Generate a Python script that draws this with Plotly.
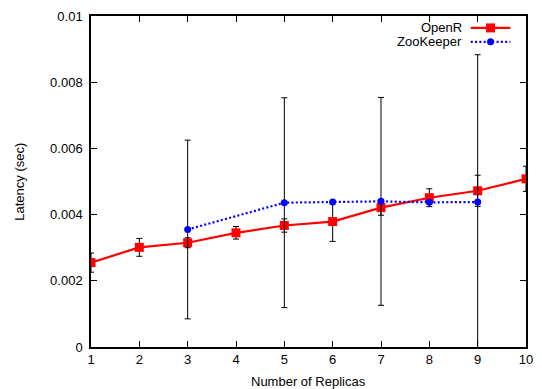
import plotly.graph_objects as go

# Replica counts and measured latencies (seconds)
replicas = [1, 2, 3, 4, 5, 6, 7, 8, 9, 10]
openr_latency = [0.00255, 0.00301, 0.00315, 0.00345, 0.00367, 0.00379, 0.00421, 0.00451, 0.00472, 0.00508]
openr_err = [0.00029, 0.00027, 0.00015, 0.00019, 0.00020, 0.00060, 0.00023, 0.00027, 0.00047, 0.00038]

zk_replicas = [3, 5, 6, 7, 8, 9]
zk_latency = [0.00355, 0.00436, 0.00438, 0.00440, 0.00437, 0.00438]
zk_err = [0.00270, 0.00317, 0.00002, 0.00314, 0.00002, 0.00445]

y_ticks = [0, 0.002, 0.004, 0.006, 0.008, 0.01]
y_tick_labels = ["0", "0.002", "0.004", "0.006", "0.008", "0.01"]

FONT = "Liberation Sans, Arial, Helvetica, sans-serif"
RED = "#ff0000"
BLUE = "#0000ff"

fig = go.Figure()

fig.add_trace(go.Scatter(
    x=replicas, y=openr_latency, name="OpenR", mode="lines+markers",
    line=dict(color=RED, width=2.2),
    marker=dict(symbol="square", size=9, color=RED),
    error_y=dict(type="data", array=openr_err, color="#000000", thickness=1, width=3),
    cliponaxis=True,
))
fig.add_trace(go.Scatter(
    x=zk_replicas, y=zk_latency, name="ZooKeeper", mode="lines+markers",
    line=dict(color=BLUE, width=2.2, dash="2px,2.3px"),
    marker=dict(symbol="circle", size=7, color=BLUE),
    error_y=dict(type="data", array=zk_err, color="#000000", thickness=1, width=3),
    cliponaxis=True,
))

# Key samples, drawn on a hidden unit overlay so they sit at fixed spots
key_rows = [("OpenR", RED, "solid", "square", 9, 0.964),
            ("ZooKeeper", BLUE, "2px,2.3px", "circle", 7, 0.922)]
for label, color, dash, symbol, size, yk in key_rows:
    fig.add_trace(go.Scatter(
        x=[0.873, 0.964], y=[yk, yk], mode="lines", xaxis="x2", yaxis="y2",
        line=dict(color=color, width=2.2, dash=dash), showlegend=False, hoverinfo="skip",
    ))
    fig.add_trace(go.Scatter(
        x=[0.9185], y=[yk], mode="markers", xaxis="x2", yaxis="y2",
        marker=dict(symbol=symbol, size=size, color=color), showlegend=False, hoverinfo="skip",
    ))
    fig.add_annotation(
        text=label, xref="paper", yref="paper", x=0.858, y=yk,
        xanchor="right", yanchor="middle", showarrow=False,
        font=dict(family=FONT, size=13, color="#000000"),
    )

axis_common = dict(
    showline=True, linecolor="#000000", linewidth=1.5, mirror="allticks",
    ticks="inside", ticklen=6, tickwidth=1, tickcolor="#000000",
    showgrid=False, zeroline=False,
    tickfont=dict(family=FONT, size=13, color="#000000"),
)

fig.update_layout(
    width=542, height=389,
    margin=dict(l=91, r=9, t=14, b=42),
    paper_bgcolor="#ffffff", plot_bgcolor="#ffffff",
    showlegend=False,
    xaxis=dict(range=[1, 10], tickvals=replicas, ticklabelstandoff=0, **axis_common),
    yaxis=dict(range=[0, 0.01], tickvals=y_ticks, ticktext=y_tick_labels,
               ticklabelstandoff=4, **axis_common),
    xaxis2=dict(range=[0, 1], overlaying="x", visible=False),
    yaxis2=dict(range=[0, 1], overlaying="y", visible=False),
)

fig.add_annotation(
    text="Number of Replicas", xref="paper", yref="paper", x=0.5, y=-0.105,
    xanchor="center", yanchor="middle", showarrow=False,
    font=dict(family=FONT, size=13, color="#000000"),
)
fig.add_annotation(
    text="Latency (sec)", xref="paper", yref="paper", x=-0.165, y=0.5,
    xanchor="center", yanchor="middle", showarrow=False, textangle=-90,
    font=dict(family=FONT, size=13, color="#000000"),
)

fig.write_html("out.html")
